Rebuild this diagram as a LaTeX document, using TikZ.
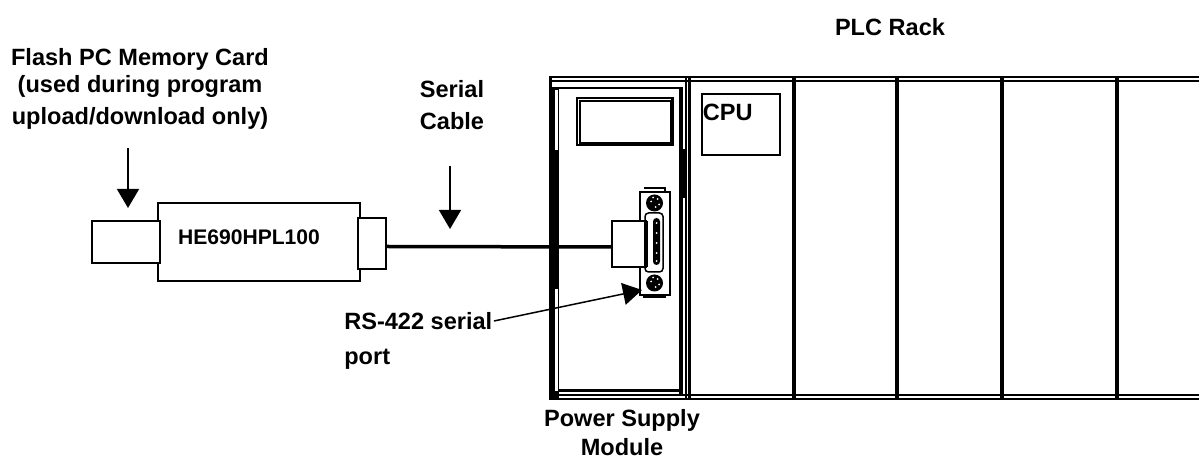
\documentclass[tikz,border=0pt]{standalone}
\usepackage{fontspec}
\setmainfont{Liberation Sans}
\usetikzlibrary{arrows.meta,positioning}
\tikzset{
  % basic outlined box
  box/.style={draw=black, line width=0.035cm, fill=white, inner sep=0pt},
  % labels
  lab/.style={font=\fontsize{13.4}{17}\selectfont\bfseries, text=black, inner sep=0pt},
  % solid strips of the rack
  strip/.style={fill=black},
  % arrows
  arr/.style={-{Triangle[length=0.38cm, width=0.44cm]}, line width=0.03cm, black},
  cable/.style={line width=0.07cm, black},
  % speckles of the screws
  speck/.style={fill=white, inner sep=0pt},
}
\begin{document}
\begin{tikzpicture}
    \useasboundingbox (0,0) rectangle (23.98,9.18);

    % Programmer
    \node[box, minimum width=4.04cm, minimum height=1.56cm] (adapter) at (5.18,4.34) {};
    \node[box, minimum width=1.36cm, minimum height=0.84cm] (card) at (2.52,4.34) {};
    \node[box, minimum width=0.56cm, minimum height=1.02cm] (socket) at (7.44,4.31) {};
    \node[lab, font=\fontsize{12}{14}\selectfont\bfseries] (adapterlab) at (4.98,4.44) {HE690HPL100};

    % Rack frame
    \fill[strip] (10.98,7.66) rectangle (23.98,7.62);
    \fill[strip] (10.98,7.58) rectangle (23.98,7.54);
    \fill[strip] (10.98,1.30) rectangle (23.98,1.26);
    \fill[strip] (10.98,1.22) rectangle (23.98,1.18);
    \fill[strip] (10.98,7.66) rectangle (11.04,7.40);
    \fill[strip] (11.18,7.44) rectangle (13.66,7.40);
    \fill[strip] (11.18,1.40) rectangle (13.66,1.34);

    % Power supply side bars
    \fill[strip] (10.98,7.44) rectangle (11.18,1.18);
    \fill[white] (11.10,7.38) rectangle (11.15,6.18);
    \fill[white] (11.10,3.40) rectangle (11.15,1.36);
    \fill[strip] (13.58,7.44) rectangle (13.66,1.30);
    \fill[strip] (13.66,6.20) rectangle (13.74,5.22);
    \fill[strip] (13.70,7.66) rectangle (13.74,1.18);
    \fill[strip] (13.76,7.66) rectangle (13.82,1.18);

    % Slot dividers
    \foreach \x in {15.84,17.90,20.00,22.30} {
        \fill[strip] (\x,7.66) rectangle (\x+0.07,1.18);
    }

    % Display window
    \draw[line width=0.04cm] (11.54,7.22) rectangle (13.46,6.28);
    \draw[line width=0.03cm] (11.60,7.16) rectangle (13.42,6.32);
    \fill[strip] (13.42,7.22) rectangle (13.48,6.28);

    % CPU
    \node[box, minimum width=1.56cm, minimum height=1.22cm] (cpu) at (14.82,6.69) {};
    \node[lab, anchor=west] (cpulab) at (14.05,6.94) {CPU};

    % Port
    \draw[line width=0.03cm] (12.80,5.34) rectangle (13.40,3.28);
    \draw[line width=0.03cm] (12.88,5.42) -- (13.30,5.42) -- (13.30,5.34);
    \draw[line width=0.03cm] (12.88,3.28) rectangle (13.30,3.24);
    \draw[line width=0.03cm, rounded corners=2pt] (12.90,4.92) rectangle (13.26,3.74);
    \fill[strip, rounded corners=2pt] (13.06,4.82) rectangle (13.20,3.88);
    \foreach \y in {4.72,4.52,4.32,4.12,3.96} {
        \fill[white] (13.13,\y) circle (0.02);
    }
    \foreach \y in {5.12,3.52} {
        \fill[strip] (13.09,\y) circle (0.17);
        \foreach \dx/\dy in {0.06/0.08,-0.07/0.03,0.02/-0.08,-0.03/0.11,0.09/-0.03} {
            \fill[white] (13.09+\dx,\y+\dy) circle (0.02);
        }
    }
    \node[box, minimum width=0.68cm, minimum height=0.92cm] (plug) at (12.58,4.30) {};
    \fill[strip] (12.88,4.76) rectangle (12.96,3.84);

    % Serial cable
    \draw[cable] ([yshift=-0.06cm]socket.east) -- ([yshift=-0.06cm]plug.west);

    % Labels
    \node[lab] (racklab) at (17.80,8.64) {PLC Rack};
    \node[lab, align=center] (cardlab) at (2.80,7.40) {Flash PC Memory Card\\[-1.5pt] (used during program\\[1.5pt] upload/download only)};
    \node[lab, align=center, font=\fontsize{13.4}{18}\selectfont\bfseries] (cablelab) at (9.04,7.08) {Serial\\Cable};
    \node[lab, align=left, font=\fontsize{13.4}{20}\selectfont\bfseries] (portlab) at (6.88,2.36) [anchor=west] {RS-422 serial\\port};
    \node[lab, align=center, font=\fontsize{13.4}{16.5}\selectfont\bfseries] (powerlab) at (12.44,0.52) {Power Supply\\Module};

    % Arrows
    \coordinate (cardfrom) at (2.56,6.22);
    \coordinate (cardto) at (2.56,5.02);
    \coordinate (cablefrom) at (9.00,5.86);
    \coordinate (cableto) at (9.00,4.60);
    \coordinate (portfrom) at (9.88,2.76);
    \coordinate (portto) at (12.84,3.38);
    \draw[arr] (cardfrom) -- (cardto);
    \draw[arr] (cablefrom) -- (cableto);
    \draw[arr] (portfrom) -- (portto);
\end{tikzpicture}
\end{document}
